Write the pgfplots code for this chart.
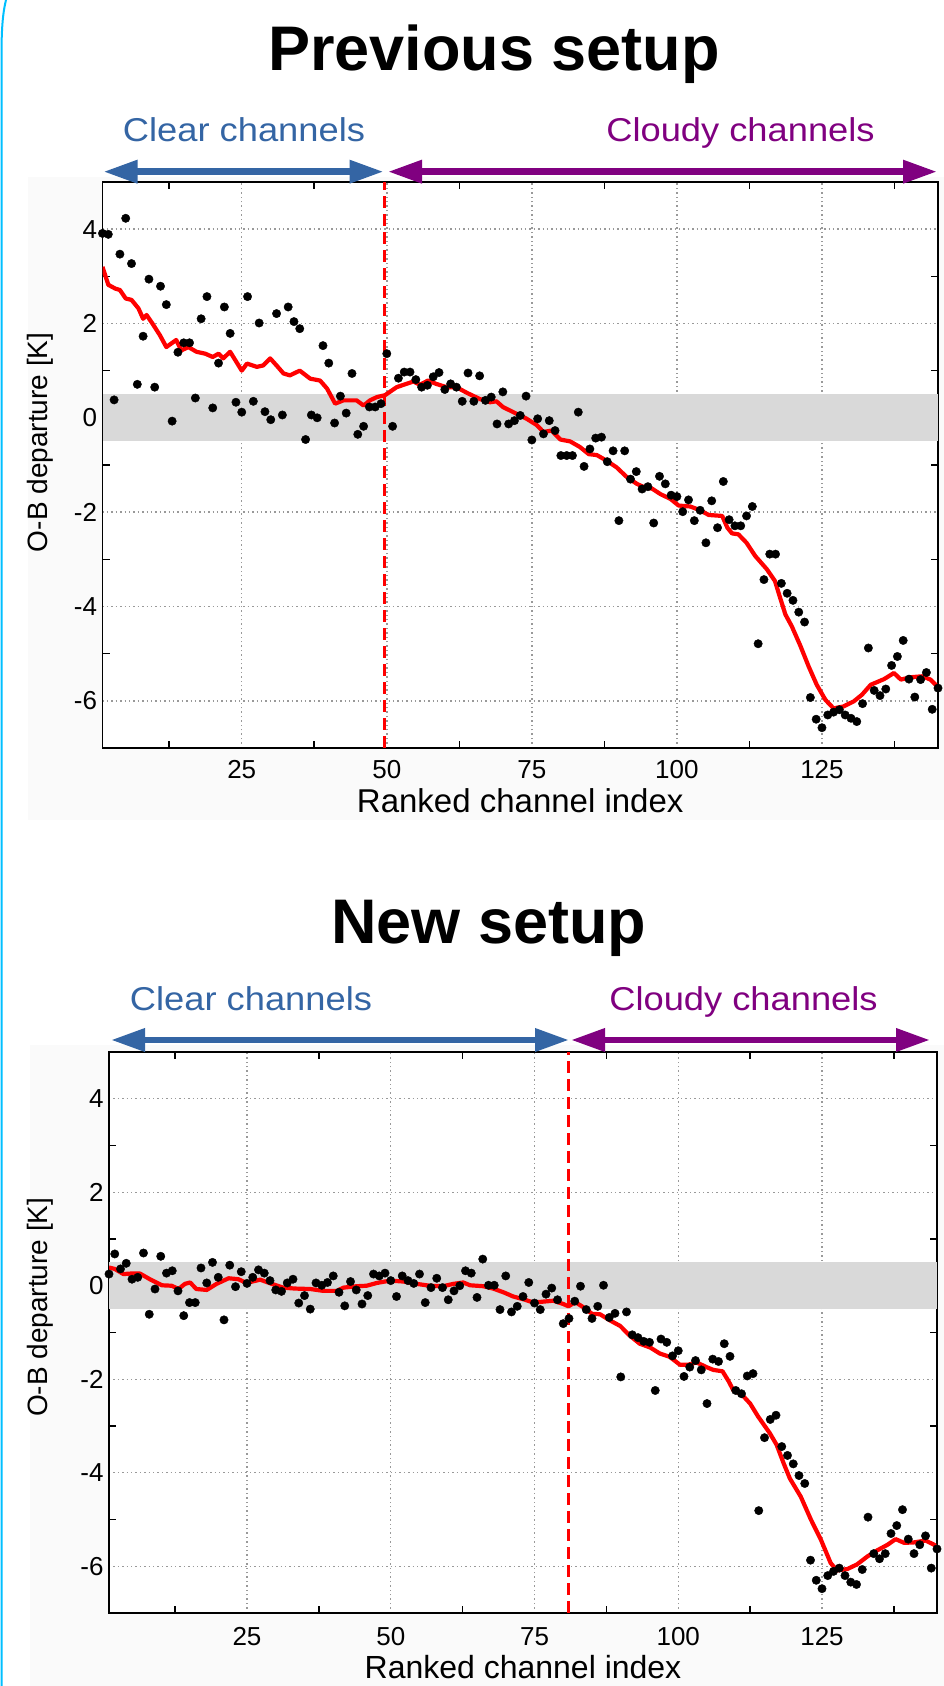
\documentclass[border=0pt]{standalone}
\usepackage{pgfplots}
\pgfplotsset{compat=1.18}
\usepackage{pgfplotstable}
\usetikzlibrary{arrows.meta}
\usepackage{fontspec}
\setmainfont{Liberation Sans}
\newfontfamily\wide[FakeStretch=1.1]{Liberation Sans}
\definecolor{clearblue}{RGB}{52,101,164}
\definecolor{cloudpurple}{RGB}{128,0,128}
\definecolor{frame}{RGB}{0,191,255}
\definecolor{band}{RGB}{217,217,217}
\definecolor{bgplot}{RGB}{250,250,250}

\pgfplotstableread{
x y
1 3.91
2 3.89
3 0.38
4 3.47
5 4.23
6 3.27
7 0.71
8 1.73
9 2.94
10 0.65
11 2.79
12 2.40
13 -0.07
14 1.39
15 1.59
16 1.59
17 0.42
18 2.10
19 2.57
20 0.21
21 1.16
22 2.35
23 1.79
24 0.33
25 0.12
26 2.57
27 0.35
28 2.01
29 0.13
30 -0.04
31 2.21
32 0.06
33 2.35
34 2.04
35 1.89
36 -0.46
37 0.06
38 0.00
39 1.53
40 1.16
41 -0.11
42 0.46
43 0.10
44 0.94
45 -0.35
46 -0.18
47 0.23
48 0.23
49 0.30
50 1.36
51 -0.18
52 0.84
53 0.97
54 0.97
55 0.81
56 0.65
57 0.69
58 0.87
59 0.96
60 0.60
61 0.72
62 0.65
63 0.35
64 0.95
65 0.35
66 0.89
67 0.37
68 0.44
69 -0.13
70 0.55
71 -0.13
72 -0.06
73 0.05
74 0.46
75 -0.47
76 -0.02
77 -0.34
78 -0.06
79 -0.27
80 -0.80
81 -0.80
82 -0.80
83 0.12
84 -1.03
85 -0.66
86 -0.43
87 -0.41
88 -0.93
89 -0.70
90 -2.18
91 -0.70
92 -1.30
93 -1.14
94 -1.51
95 -1.46
96 -2.23
97 -1.24
98 -1.40
99 -1.64
100 -1.67
101 -1.99
102 -1.74
103 -2.18
104 -1.96
105 -2.65
106 -1.76
107 -2.33
108 -1.35
109 -2.16
110 -2.29
111 -2.29
112 -2.08
113 -1.88
114 -4.79
115 -3.43
116 -2.89
117 -2.89
118 -3.51
119 -3.72
120 -3.87
121 -4.12
122 -4.33
123 -5.93
124 -6.39
125 -6.57
126 -6.30
127 -6.24
128 -6.19
129 -6.30
130 -6.37
131 -6.44
132 -6.06
133 -4.88
134 -5.78
135 -5.89
136 -5.75
137 -5.25
138 -5.06
139 -4.72
140 -5.54
141 -5.92
142 -5.55
143 -5.40
144 -6.18
145 -5.73
}\prevdots

\pgfplotstableread{
x y
1 3.20
2 2.82
3.2 2.74
4 2.71
5 2.53
6 2.50
7.2 2.32
8 2.10
8.6 2.18
9.6 2.00
10.9 1.75
12 1.50
13.7 1.65
14.6 1.43
15.8 1.50
17.2 1.40
18.7 1.36
20 1.29
21 1.36
21.8 1.26
23 1.40
25 1.00
25.9 1.15
27.6 1.08
28.7 1.11
29.9 1.26
31 1.11
32.2 0.94
33.3 0.90
35 1.00
36.8 0.83
38.5 0.79
39.7 0.62
41.1 0.30
42.5 0.37
44.8 0.37
46 0.26
47.1 0.37
48.3 0.44
49.7 0.48
51.7 0.65
54.6 0.77
55.7 0.70
57.1 0.79
58.5 0.72
60.3 0.65
62 0.65
63.8 0.53
66 0.40
67.8 0.33
68.9 0.35
70 0.23
71.8 0.12
74.1 -0.02
75.8 -0.15
77 -0.30
78.4 -0.27
79.9 -0.46
81.6 -0.50
83.3 -0.62
84.8 -0.77
86.2 -0.79
87.9 -0.91
89.6 -1.05
91.4 -1.26
93.1 -1.40
94.5 -1.48
95.7 -1.50
97.2 -1.62
98.9 -1.72
100.3 -1.86
102.3 -1.88
103.8 -1.95
105.5 -2.06
107.8 -2.08
108.7 -2.33
109.5 -2.45
110.6 -2.47
112 -2.65
113.5 -2.93
115.5 -3.21
116.9 -3.46
117.8 -3.82
118.7 -4.17
119.8 -4.42
121.3 -4.84
122.7 -5.27
124.1 -5.66
125.6 -5.98
127 -6.16
128.7 -6.12
130.5 -6.01
131.9 -5.87
133.4 -5.66
135.7 -5.54
137.4 -5.41
138.6 -5.55
140.3 -5.50
142.3 -5.48
143.7 -5.55
145 -5.71
}\prevline

\pgfplotstableread{
x y
1 0.25
2 0.68
3 0.36
4 0.48
5 0.14
6 0.18
7 0.70
8 -0.61
9 -0.07
10 0.63
11 0.27
12 0.32
13 -0.11
14 -0.64
15 -0.36
16 -0.36
17 0.38
18 0.06
19 0.50
20 0.18
21 -0.73
22 0.44
23 -0.02
24 0.30
25 0.05
26 0.18
27 0.34
28 0.27
29 0.11
30 -0.09
31 -0.12
32 0.06
33 0.14
34 -0.37
35 -0.21
36 -0.50
37 0.06
38 0.01
39 0.07
40 0.21
41 -0.14
42 -0.43
43 0.09
44 -0.09
45 -0.39
46 -0.21
47 0.25
48 0.21
49 0.27
50 0.11
51 -0.23
52 0.21
53 0.11
54 0.05
55 0.25
56 -0.36
57 -0.04
58 0.16
59 -0.04
60 -0.30
61 -0.11
62 0.00
63 0.32
64 0.27
65 -0.25
66 0.57
67 0.01
68 0.01
69 -0.51
70 0.21
71 -0.56
72 -0.44
73 -0.23
74 0.07
75 -0.37
76 -0.51
77 -0.18
78 -0.05
79 -0.30
80 -0.81
81 -0.70
82 -0.33
83 -0.01
84 -0.51
85 -0.70
86 -0.44
87 0.01
88 -0.68
89 -0.59
90 -1.95
91 -0.56
92 -1.05
93 -1.11
94 -1.19
95 -1.21
96 -2.24
97 -1.14
98 -1.21
99 -1.50
100 -1.39
101 -1.94
102 -1.74
103 -1.60
104 -1.80
105 -2.52
106 -1.57
107 -1.62
108 -1.24
109 -1.51
110 -2.24
111 -2.31
112 -1.93
113 -1.88
114 -4.81
115 -3.25
116 -2.86
117 -2.77
118 -3.44
119 -3.63
120 -3.81
121 -4.06
122 -4.23
123 -5.87
124 -6.30
125 -6.48
126 -6.20
127 -6.11
128 -6.04
129 -6.20
130 -6.34
131 -6.39
132 -6.07
133 -4.95
134 -5.73
135 -5.84
136 -5.73
137 -5.30
138 -5.13
139 -4.79
140 -5.42
141 -5.73
142 -5.54
143 -5.35
144 -6.04
145 -5.63
}\newdots

\pgfplotstableread{
x y
1 0.39
2 0.36
3.5 0.25
4.7 0.26
6.4 0.26
8.1 0.14
10.2 0.01
11.9 0.00
13.1 -0.07
14.2 0.04
15.1 0.07
16.2 -0.07
18 -0.09
19.7 0.04
21.8 0.16
23.5 0.14
24.9 0.06
27.3 0.13
29.3 0.04
31.3 -0.04
33.3 -0.06
36 -0.07
38.3 -0.11
40.6 -0.11
41.8 -0.04
44.1 -0.01
45.8 0.00
47.6 0.06
49.9 0.11
52.2 0.09
54.5 0.04
56.8 0.00
59.1 -0.01
60.9 0.04
62.6 0.07
63.8 0.01
66.1 -0.01
67.8 -0.06
69.6 -0.14
71.3 -0.23
73.1 -0.29
74.8 -0.36
76.5 -0.34
78.3 -0.32
80 -0.39
80.9 -0.44
82.1 -0.35
83.5 -0.46
85 -0.60
86.4 -0.61
88.1 -0.74
89.9 -0.86
91.6 -1.07
93.3 -1.24
95.1 -1.32
96.8 -1.45
98.5 -1.52
100.3 -1.69
101.7 -1.69
103.2 -1.64
104.9 -1.74
106.1 -1.80
107.7 -1.83
108.7 -2.03
109.6 -2.24
111 -2.32
112.5 -2.52
113.9 -2.80
115.9 -3.15
117.1 -3.40
118.3 -3.79
119.4 -4.12
121.3 -4.51
123.1 -5.01
124.8 -5.43
126.5 -5.93
127.6 -6.09
129.4 -6.06
131.1 -5.96
132.9 -5.79
134.6 -5.66
136.4 -5.54
137.8 -5.42
139.3 -5.50
141 -5.49
143 -5.45
144.5 -5.54
145 -5.61
}\newline

\pgfplotsset{
  obstyle/.style={
    scale only axis,
    axis background/.style={fill=white},
    xmin=1, xmax=145, ymin=-7, ymax=5,
    xtick={25,50,75,100,125},
    ytick={-6,-4,-2,0,2,4},
    minor xtick={12.5,37.5,62.5,87.5,112.5,137.5},
    minor ytick={-5,-3,-1,1,3},
    major tick length=0pt,
    minor tick length=7pt,
    tick align=inside,
    tick style={black, line width=1.6pt},
    xmajorgrids, ymajorgrids,
    major grid style={gray!80, line width=1.4pt, dash pattern=on 1.4pt off 3pt},
    axis line style={black, line width=1.8pt},
    /pgf/number format/assume math mode=true,
    ticklabel style={font=\fontsize{26}{29}\selectfont},
    xticklabel style={yshift=-9pt},
    yticklabel style={xshift=-2pt},
    xlabel={Ranked channel index},
    ylabel={O-B departure [K]},
    xlabel style={font=\fontsize{33}{36}\selectfont, at={(axis description cs:0.5,-0.094)}, anchor=center},
    ylabel style={font=\fontsize{28}{31}\selectfont},
  },
}

\begin{document}
\begin{tikzpicture}
\begin{scope}[x=1pt,y=1pt]
% background
\fill[white] (0,0) rectangle (944,1686);
\fill[bgplot] (28,866) rectangle (944,1509);
\fill[bgplot] (30,0) rectangle (944,641);
\draw[frame, line width=2pt] (6,1686) .. controls (2.5,1672) and (1.5,1655) .. (1.5,1630) -- (1.5,0);

% titles and annotations
\node[anchor=base, font=\fontsize{63}{70}\selectfont\bfseries] at (494,1615) {Previous setup};
\node[anchor=base, font=\fontsize{63}{70}\selectfont\bfseries] at (489,742) {New setup};

\node[anchor=base, text=clearblue, font=\wide\fontsize{33}{36}\selectfont] at (244,1544.3) {Clear channels};
\node[anchor=base, text=cloudpurple, font=\wide\fontsize{33}{36}\selectfont] at (740.5,1544.3) {Cloudy channels};
\node[anchor=base, text=clearblue, font=\wide\fontsize{33}{36}\selectfont] at (251,675.3) {Clear channels};
\node[anchor=base, text=cloudpurple, font=\wide\fontsize{33}{36}\selectfont] at (743.5,675.3) {Cloudy channels};
\end{scope}

% top plot
\begin{axis}[obstyle, at={(102.5pt,938pt)}, anchor=south west, width=835.5pt, height=566pt,
  ylabel style={at={(axis description cs:-0.074,0.54)}, anchor=center}]
  \addplot[fill=band, draw=none] coordinates {(1,-0.5) (145,-0.5) (145,0.5) (1,0.5)} -- cycle;
  \addplot[red, line width=2.4pt, dash pattern=on 12pt off 6pt] coordinates {(49.6,-7) (49.6,5)};
  \addplot[only marks, mark=*, mark size=4.2pt, black] table[x=x,y=y] {\prevdots};
  \addplot[red, line width=4.2pt, line join=round] table[x=x,y=y] {\prevline};
\end{axis}

% bottom plot
\begin{axis}[obstyle, at={(109pt,73pt)}, anchor=south west, width=828pt, height=561pt,
  xticklabel style={yshift=-4pt, inner sep=1pt},
  xlabel style={font=\fontsize{32}{35}\selectfont, inner sep=0pt, at={(axis description cs:0.5,-0.097)}, anchor=center},
  ylabel style={at={(axis description cs:-0.083,0.545)}, anchor=center}]
  \addplot[fill=band, draw=none] coordinates {(1,-0.5) (145,-0.5) (145,0.5) (1,0.5)} -- cycle;
  \addplot[red, line width=2.4pt, dash pattern=on 12pt off 6pt] coordinates {(80.9,-7) (80.9,5)};
  \addplot[only marks, mark=*, mark size=4.2pt, black] table[x=x,y=y] {\newdots};
  \addplot[red, line width=4.2pt, line join=round] table[x=x,y=y] {\newline};
\end{axis}

\begin{scope}[x=1pt,y=1pt]
% arrows
\draw[clearblue, line width=6.5pt, {Triangle[length=34pt,width=22pt]}-{Triangle[length=34pt,width=22pt]}] (103.5,1514.3) -- (383.5,1514.3);
\draw[cloudpurple, line width=6.5pt, {Triangle[length=34pt,width=22pt]}-{Triangle[length=34pt,width=22pt]}] (388,1514.3) -- (937,1514.3);
\draw[clearblue, line width=6.5pt, {Triangle[length=34pt,width=22pt]}-{Triangle[length=34pt,width=22pt]}] (111,646) -- (569,646);
\draw[cloudpurple, line width=6.5pt, {Triangle[length=34pt,width=22pt]}-{Triangle[length=34pt,width=22pt]}] (571,646) -- (930,646);
\end{scope}

\pgfresetboundingbox
\path (0pt,0pt) rectangle (944pt,1686pt);
\end{tikzpicture}
\end{document}
